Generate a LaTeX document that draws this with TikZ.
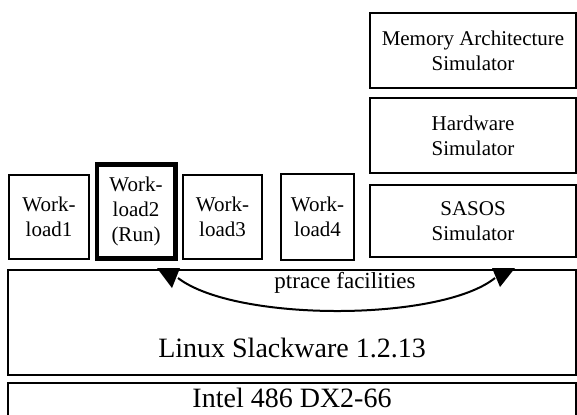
\documentclass[tikz,border=0pt]{standalone}
\usepackage{fontspec}
\setmainfont{Liberation Serif}
\usepackage{tikz}
\usetikzlibrary{calc,positioning}

\tikzset{
  box/.style={draw, line width=0.8pt, align=center, inner sep=0pt,
    font=\fontsize{10.5}{12.5}\selectfont},
  runbox/.style={box, line width=2.2pt},
  layer/.style={draw, line width=0.8pt, inner sep=0pt},
  bigtext/.style={inner sep=0pt, font=\fontsize{14}{16}\selectfont},
}

\begin{document}
\begin{tikzpicture}[x=0.5pt,y=-0.5pt]
\useasboundingbox (0,0) rectangle (577,414);
% workloads
\node[box, minimum width=40pt, minimum height=42pt] (wl1) at (49,217) {Work-\\load1};
\node[runbox, minimum width=39.3pt, minimum height=47pt] (wl2) at (136,211.5) {Work-\\load2\\(Run)};
\node[box, minimum width=39.5pt, minimum height=42pt] (wl3) at (222.5,217) {Work-\\load3};
\node[box, minimum width=36.5pt, minimum height=43pt] (wl4) at (317.5,217) {Work-\\load4};
% simulators
\node[box, minimum width=103pt, minimum height=37.5pt] (mem) at (473,50.5) {Memory Architecture\\Simulator};
\node[box, minimum width=103pt, minimum height=37.5pt] (hw) at (473,135.5) {Hardware\\Simulator};
\node[box, minimum width=103pt, minimum height=36pt] (sasos) at (473,221) {SASOS\\Simulator};
% os and machine
\node[layer, minimum width=284pt, minimum height=52.5pt] (linux) at (292,322.5) {};
\node[bigtext] (linuxtxt) at (292,348) {Linux Slackware 1.2.13};
\node[layer, minimum width=284pt, minimum height=28.5pt] (intel) at (292,411.5) {};
\node[bigtext] (inteltxt) at (292,398) {Intel 486 DX2-66};
% ptrace
\coordinate (pl) at (178,278);
\coordinate (pr) at (495,278);
\fill (157,268) -- (180,268) -- (172,288) -- cycle;
\fill (492,268) -- (515,268) -- (500,287) -- cycle;
\draw[line width=1pt] (pl) .. controls (235,322) and (440,322) .. (pr);
\node[inner sep=0pt, font=\fontsize{11.5}{13}\selectfont] (ptrace) at (345,283) {ptrace facilities};
\end{tikzpicture}
\end{document}
